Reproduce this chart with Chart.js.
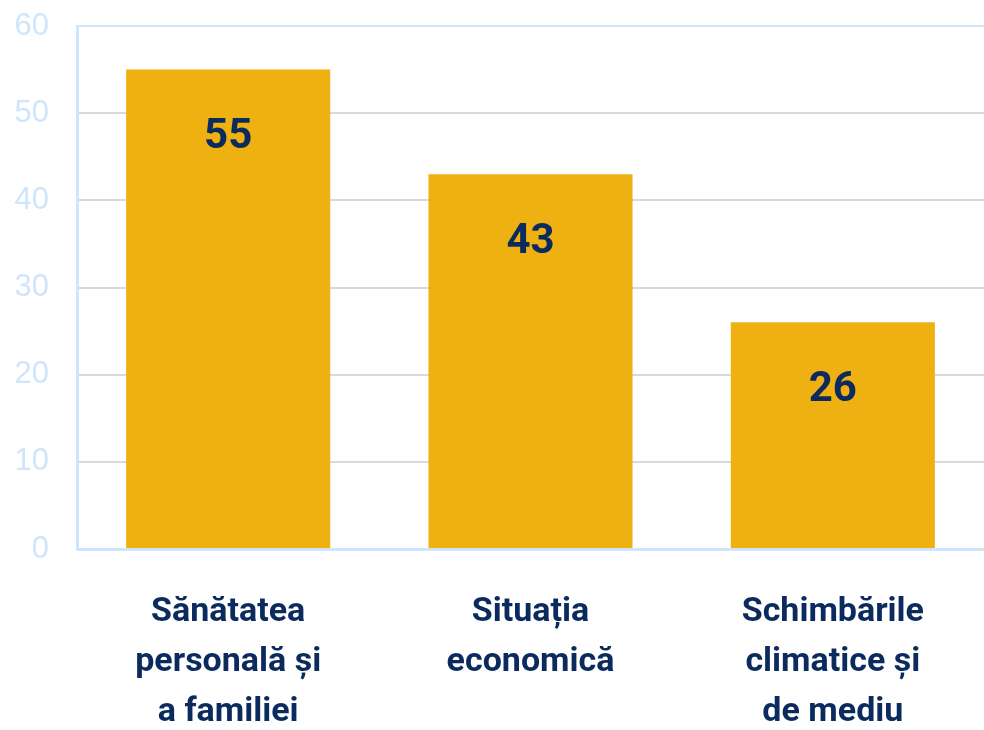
<!DOCTYPE html>
<html>
<head>
<meta charset="utf-8">
<script src="https://cdn.jsdelivr.net/npm/chart.js@4/dist/chart.umd.min.js"></script>
<style>
  html, body { margin: 0; padding: 0; background: #ffffff; }
  #wrap { width: 984px; height: 730px; position: relative; }
</style>
</head>
<body>
<div id="wrap"><canvas id="c" width="984" height="730"></canvas></div>
<script>
const categories = [
  ["Sănătatea", "personală și", "a familiei"],
  ["Situația", "economică"],
  ["Schimbările", "climatice și", "de mediu"]
];
const values = [55, 43, 26];
const yTicks = [0, 10, 20, 30, 40, 50, 60];

const NAVY = "#0b2b5e";
const GOLD = "#efb111";
const AXIS_BLUE = "#cfe5fb";
const GRID = "#d9d9d9";

const valueLabels = {
  id: "valueLabels",
  afterDatasetsDraw(chart) {
    const ctx = chart.ctx;
    const meta = chart.getDatasetMeta(0);
    ctx.save();
    ctx.fillStyle = NAVY;
    ctx.font = "bold 42px Roboto";
    ctx.textAlign = "center";
    ctx.textBaseline = "middle";
    meta.data.forEach((bar, i) => {
      ctx.fillText(String(values[i]), bar.x, bar.y + 68);
    });
    ctx.restore();
  }
};

new Chart(document.getElementById("c"), {
  type: "bar",
  data: {
    labels: categories,
    datasets: [{
      data: values,
      backgroundColor: GOLD,
      borderWidth: 0,
      categoryPercentage: 1,
      barPercentage: 0.675
    }]
  },
  options: {
    responsive: false,
    animation: false,
    layout: { padding: { top: 26, left: 14, right: 0, bottom: 0 } },
    plugins: { legend: { display: false }, tooltip: { enabled: false } },
    scales: {
      x: {
        afterFit(scale) { scale.height = 181; },
        grid: { display: false, drawTicks: false },
        border: { display: true, color: AXIS_BLUE, width: 3 },
        ticks: {
          color: NAVY,
          font: { family: "Roboto", size: 34, weight: "bold", lineHeight: 1.47 },
          padding: 39,
          maxRotation: 0,
          autoSkip: false
        }
      },
      y: {
        min: 0,
        max: 60,
        afterFit(scale) { scale.width = 63; scale.paddingTop = 0; scale.paddingBottom = 0; },
        afterBuildTicks(scale) { scale.ticks = yTicks.map(v => ({ value: v })); },
        grid: {
          drawTicks: false,
          lineWidth: 2,
          color: ctx => (ctx.tick && ctx.tick.value === 60) ? AXIS_BLUE : GRID
        },
        border: { display: true, color: AXIS_BLUE, width: 3 },
        ticks: {
          color: AXIS_BLUE,
          font: { family: "Liberation Sans", size: 31 },
          padding: 28
        }
      }
    }
  },
  plugins: [valueLabels]
});
</script>
</body>
</html>
